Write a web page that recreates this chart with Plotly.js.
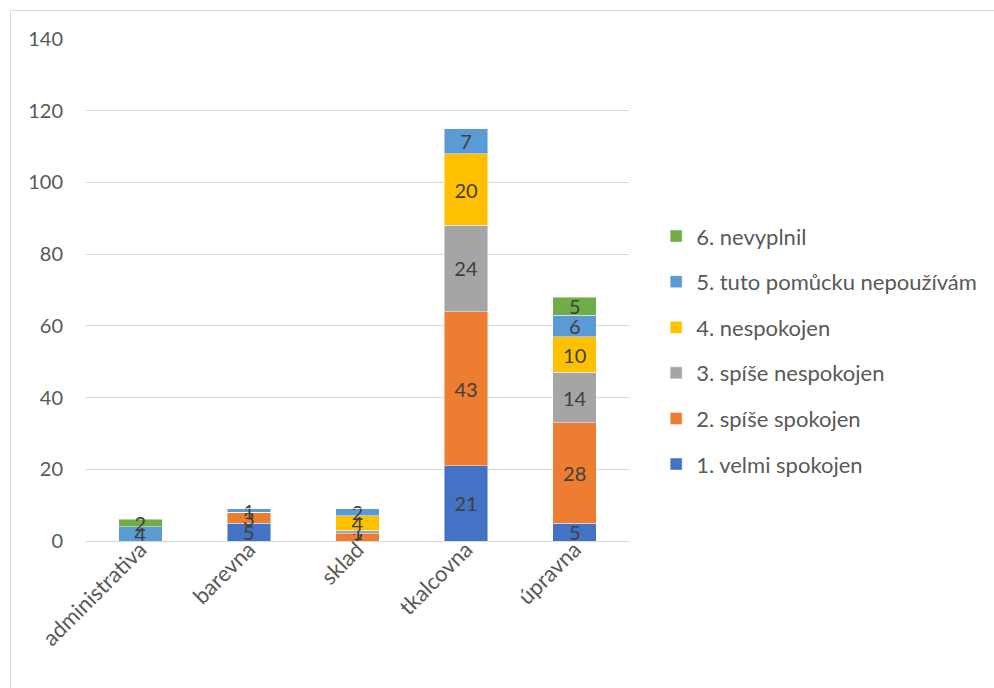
<!DOCTYPE html>
<html>
<head>
<meta charset="utf-8">
<script src="https://cdn.plot.ly/plotly-3.0.1.min.js"></script>
<style>
  html, body { margin: 0; padding: 0; background: #ffffff; }
  #frame { position: absolute; left: 10px; top: 10px; width: 1000px; height: 700px; border: 1px solid #d9d9d9; }
  #chart { position: absolute; left: 0; top: 0; width: 994px; height: 688px; }
</style>
</head>
<body>
<div id="frame"></div>
<div id="chart"></div>
<script>
const categories = ["administrativa", "barevna", "sklad", "tkalcovna", "úpravna"];
const seriesNames = [
  "1. velmi spokojen",
  "2. spíše spokojen",
  "3. spíše nespokojen",
  "4. nespokojen",
  "5. tuto pomůcku nepoužívám",
  "6. nevyplnil"
];
const velmiSpokojen    = [0, 5, 0, 21, 5];
const spiseSpokojen    = [0, 3, 2, 43, 28];
const spiseNespokojen  = [0, 0, 1, 24, 14];
const nespokojen       = [0, 0, 4, 20, 10];
const nepouzivam       = [4, 1, 2, 7, 6];
const nevyplnil        = [2, 0, 0, 0, 5];
const yTicks = [0, 20, 40, 60, 80, 100, 120, 140];

const seriesValues = [velmiSpokojen, spiseSpokojen, spiseNespokojen, nespokojen, nepouzivam, nevyplnil];
const colors = ["#4472C4", "#ED7D31", "#A5A5A5", "#FFC000", "#5B9BD5", "#70AD47"];

const font = "Lato, 'Open Sans', sans-serif";

const traces = seriesValues.map((vals, i) => ({
  type: "bar",
  name: seriesNames[i],
  x: categories,
  y: vals,
  text: vals.map(v => v === 0 ? "" : String(v)),
  textposition: "inside",
  insidetextanchor: "middle",
  constraintext: "none",
  textangle: 0,
  textfont: { family: font, size: 20, color: "#404040" },
  marker: { color: colors[i], line: { color: "rgba(255,255,255,0.6)", width: 0.75 } },
  legendgroup: "g" + i,
  legendrank: 1000 - i,
  hoverinfo: "skip"
}));

const layout = {
  width: 994,
  height: 688,
  paper_bgcolor: "rgba(0,0,0,0)",
  plot_bgcolor: "rgba(0,0,0,0)",
  margin: { l: 86, r: 362, t: 39, b: 147 },
  barmode: "stack",
  bargap: 0.6,
  font: { family: font, size: 20, color: "#595959" },
  xaxis: {
    type: "category",
    tickangle: -45,
    showgrid: false,
    showline: true,
    linecolor: "#d9d9d9",
    linewidth: 1,
    ticks: "",
    ticklabelstandoff: -14,
    tickfont: { family: font, size: 22, color: "#595959" },
    fixedrange: true
  },
  yaxis: {
    range: [0, 140],
    tickvals: yTicks,
    ticktext: yTicks.map(String),
    showgrid: true,
    gridcolor: "#d9d9d9",
    gridwidth: 1,
    zeroline: false,
    showline: false,
    ticks: "outside",
    ticklen: 18,
    tickcolor: "rgba(0,0,0,0)",
    tickfont: { family: font, size: 20, color: "#595959" },
    fixedrange: true
  },
  legend: {
    x: 1.05,
    xanchor: "left",
    y: 0.38,
    yanchor: "middle",
    traceorder: "grouped",
    tracegroupgap: 14,
    font: { family: font, size: 22, color: "#595959" },
    bgcolor: "rgba(0,0,0,0)"
  },
  showlegend: true
};

Plotly.newPlot("chart", traces, layout, { displayModeBar: false, staticPlot: true });
</script>
</body>
</html>
